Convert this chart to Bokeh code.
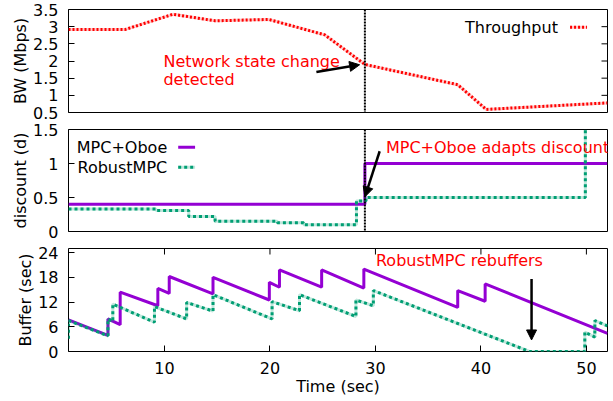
import math
from bokeh.plotting import figure
from bokeh.layouts import column
from bokeh.models import (Range1d, FixedTicker, Span, Label, Arrow, NormalHead)
from bokeh.embed import file_html
from bokeh.resources import INLINE

# ---------------- data ----------------
time_start, time_end = 0.9, 52.0
time_ticks = [10, 20, 30, 40, 50]

bw_time = [0.9, 6.3, 10.8, 14.8, 19.9, 25.2, 29.0, 37.8, 40.5, 52.0]
bw_mbps = [2.92, 2.92, 3.36, 3.17, 3.21, 2.76, 1.90, 1.31, 0.59, 0.78]
bw_range = (0.5, 3.5)
bw_ticks = [0.5, 1, 1.5, 2, 2.5, 3, 3.5]
bw_tick_labels = ["0.5", "1", "1.5", "2", "2.5", "3", "3.5"]

change_time = 29.0

oboe_disc_time = [0.9, 29.0, 52.0]
oboe_disc = [0.40, 1.00, 1.00]
robust_disc_time = [0.9, 9.2, 12.3, 14.8, 20.7, 23.2, 28.2, 29.1, 49.9]
robust_disc = [0.33, 0.31, 0.22, 0.15, 0.13, 0.10, 0.45, 0.50, 1.5]
disc_range = (0, 1.5)
disc_ticks = [0, 0.5, 1, 1.5]
disc_tick_labels = ["0", "0.5", "1", "1.5"]

oboe_buf_time = [0.9, 4.64, 4.64, 5.8, 5.8, 9.37, 9.37, 10.45, 10.45, 14.6, 14.6,
                 19.94, 19.94, 20.9, 20.9, 24.9, 24.9, 28.9, 28.9, 37.8, 37.8,
                 40.4, 40.4, 52.0]
oboe_buf = [7.7, 3.9, 7.9, 6.5, 14.4, 11.1, 15.3, 14.1, 18.2, 14.0, 18.0,
            12.5, 16.8, 15.6, 19.8, 15.6, 19.8, 15.4, 20.0, 10.7, 14.8,
            12.2, 16.4, 4.4]
robust_buf_time = [0.9, 0.9, 4.64, 4.64, 5.1, 5.1, 9.05, 9.05, 12.1, 12.1, 14.6, 14.6,
                   20.2, 20.2, 22.8, 22.8, 28.15, 28.15, 29.8, 29.8, 44.6, 49.85,
                   49.85, 50.8, 50.8, 52.0]
robust_buf = [3.1, 7.5, 3.8, 7.9, 7.3, 11.5, 7.1, 10.9, 7.9, 11.9, 9.8, 13.8,
              7.9, 12.1, 9.9, 13.8, 8.5, 12.5, 11.1, 14.8, 0.0, 0.0,
              4.7, 3.5, 7.5, 6.2]
buf_range = (0, 25)
buf_ticks = [0, 6, 12, 18, 24]

# legend / annotation placement (data units of each panel)
leg1_text = (47.3, 2.98)
leg1_sample = (48.45, 50.06, 2.98)
leg2_text_x = 10.26
leg2_sample_x = (11.3, 12.9)
leg2_rows_y = (1.238, 0.946)
net_text_xy = (9.9, 1.99, 1.46)
net_arrow = (24.4, 1.68, 28.5, 1.89)
adapt_text_xy = (31.0, 1.24)
adapt_arrow = (30.4, 1.18, 29.0, 0.51)
rebuf_text_xy = (30.05, 22.0)
rebuf_arrow = (44.8, 17.6, 44.8, 2.8)

# ---------------- style ----------------
FONT = "DejaVu Sans"
FS = "16px"
PURPLE = "#9400d3"
GREEN = "#009e73"
RED = "#ff0000"
W = 613

x_range = Range1d(time_start, time_end)


def make_fig(height, yr, btop, bbottom, xaxis):
    p = figure(width=W, height=height, x_range=x_range, y_range=Range1d(*yr),
               output_backend="svg", toolbar_location=None,
               x_axis_location="below" if xaxis else None,
               min_border_left=68, min_border_right=6,
               min_border_top=btop, min_border_bottom=bbottom)
    p.grid.visible = False
    p.outline_line_color = "black"
    p.outline_line_width = 1
    p.outline_line_alpha = 1
    p.background_fill_color = "white"
    p.border_fill_color = "white"
    return p


def style_axis(ax, ticks, labels=None):
    ax.ticker = FixedTicker(ticks=ticks)
    if labels is not None:
        ax.major_label_overrides = {t: l for t, l in zip(ticks, labels)}
    ax.major_tick_in = 6
    ax.major_tick_out = 0
    ax.major_tick_line_color = "black"
    ax.minor_tick_line_color = None
    ax.axis_line_color = None
    ax.major_label_text_font = FONT
    ax.major_label_text_font_size = FS
    ax.major_label_text_color = "black"
    ax.axis_label_text_font = FONT
    ax.axis_label_text_font_size = FS
    ax.axis_label_text_font_style = "normal"
    ax.axis_label_text_color = "black"


def style_yaxis(ax, ticks, labels, title):
    style_axis(ax, ticks, labels)
    ax.axis_label = title
    ax.major_label_standoff = 10
    ax.axis_label_standoff = 0


def text(p, x, y, s, color=RED, align="left"):
    p.add_layout(Label(x=x, y=y, text=s, text_color=color, text_font=FONT,
                       text_font_size=FS, text_baseline="middle", text_align=align))


def arrow(p, a):
    p.add_layout(Arrow(end=NormalHead(size=10, fill_color="black", line_color="black"),
                       x_start=a[0], y_start=a[1], x_end=a[2], y_end=a[3],
                       line_color="black", line_width=2.5))


def sample(p, x0, x1, y, color, dash=None, alpha=1.0, width=3):
    kw = dict(end=None, x_start=x0, y_start=y, x_end=x1, y_end=y,
              line_color=color, line_width=width, line_alpha=alpha)
    if dash:
        kw["line_dash"] = dash
    p.add_layout(Arrow(**kw))


def change_line(p):
    p.add_layout(Span(location=change_time, dimension="height", line_color="black",
                      line_width=2, line_dash="2 1"))


# ---------- panel 1: throughput ----------
p1 = make_fig(122, bw_range, 9, 10, False)
style_yaxis(p1.yaxis[0], bw_ticks, bw_tick_labels, "BW (Mbps)")
# mirrored inward ticks on the right border
p1.ray(x=[time_end] * len(bw_ticks), y=bw_ticks, length=6, length_units="screen",
       angle=math.pi, line_color="black", line_width=1)

p1.line(bw_time, bw_mbps, line_color=RED, line_alpha=0.2, line_width=3)
p1.line(bw_time, bw_mbps, line_color=RED, line_width=3, line_dash="2 2")
change_line(p1)
text(p1, net_text_xy[0], net_text_xy[1], "Network state change")
text(p1, net_text_xy[0], net_text_xy[2], "detected")
arrow(p1, net_arrow)
text(p1, leg1_text[0], leg1_text[1], "Throughput", color="black", align="right")
sample(p1, leg1_sample[0], leg1_sample[1], leg1_sample[2], RED, alpha=0.2)
sample(p1, leg1_sample[0], leg1_sample[1], leg1_sample[2], RED, dash="2 2")

# ---------- panel 2: discount ----------
p2 = make_fig(119, disc_range, 7, 10, False)
style_yaxis(p2.yaxis[0], disc_ticks, disc_tick_labels, "discount (d)")

change_line(p2)
p2.step(oboe_disc_time, oboe_disc, mode="after", line_color=PURPLE, line_width=3)
p2.step(robust_disc_time, robust_disc, mode="after", line_color=GREEN,
        line_alpha=0.25, line_width=3)
p2.step(robust_disc_time, robust_disc, mode="after", line_color=GREEN,
        line_width=3, line_dash="3 3")
text(p2, adapt_text_xy[0], adapt_text_xy[1], "MPC+Oboe adapts discount")
arrow(p2, adapt_arrow)
text(p2, leg2_text_x, leg2_rows_y[0], "MPC+Oboe", color="black", align="right")
sample(p2, leg2_sample_x[0], leg2_sample_x[1], leg2_rows_y[0], PURPLE)
text(p2, leg2_text_x, leg2_rows_y[1], "RobustMPC", color="black", align="right")
sample(p2, leg2_sample_x[0], leg2_sample_x[1], leg2_rows_y[1], GREEN, alpha=0.25)
sample(p2, leg2_sample_x[0], leg2_sample_x[1], leg2_rows_y[1], GREEN, dash="3 3")

# ---------- panel 3: buffer ----------
p3 = make_fig(159, buf_range, 7, 49, True)
style_yaxis(p3.yaxis[0], buf_ticks, None, "Buffer (sec)")
style_axis(p3.xaxis[0], time_ticks)
p3.xaxis[0].axis_label = "Time (sec)"
p3.xaxis[0].major_label_standoff = 10
p3.xaxis[0].axis_label_standoff = 0
# mirrored inward ticks on the top border
p3.ray(x=time_ticks, y=[buf_range[1]] * len(time_ticks), length=6, length_units="screen",
       angle=-math.pi / 2, line_color="black", line_width=1)

p3.line(oboe_buf_time, oboe_buf, line_color=PURPLE, line_width=3)
p3.line(robust_buf_time, robust_buf, line_color=GREEN, line_alpha=0.25, line_width=3)
p3.line(robust_buf_time, robust_buf, line_color=GREEN, line_width=3, line_dash="3 3")
text(p3, rebuf_text_xy[0], rebuf_text_xy[1], "RobustMPC rebuffers")
arrow(p3, rebuf_arrow)

layout = column(p1, p2, p3, spacing=0)
open("out.html", "w").write(file_html(layout, INLINE))
